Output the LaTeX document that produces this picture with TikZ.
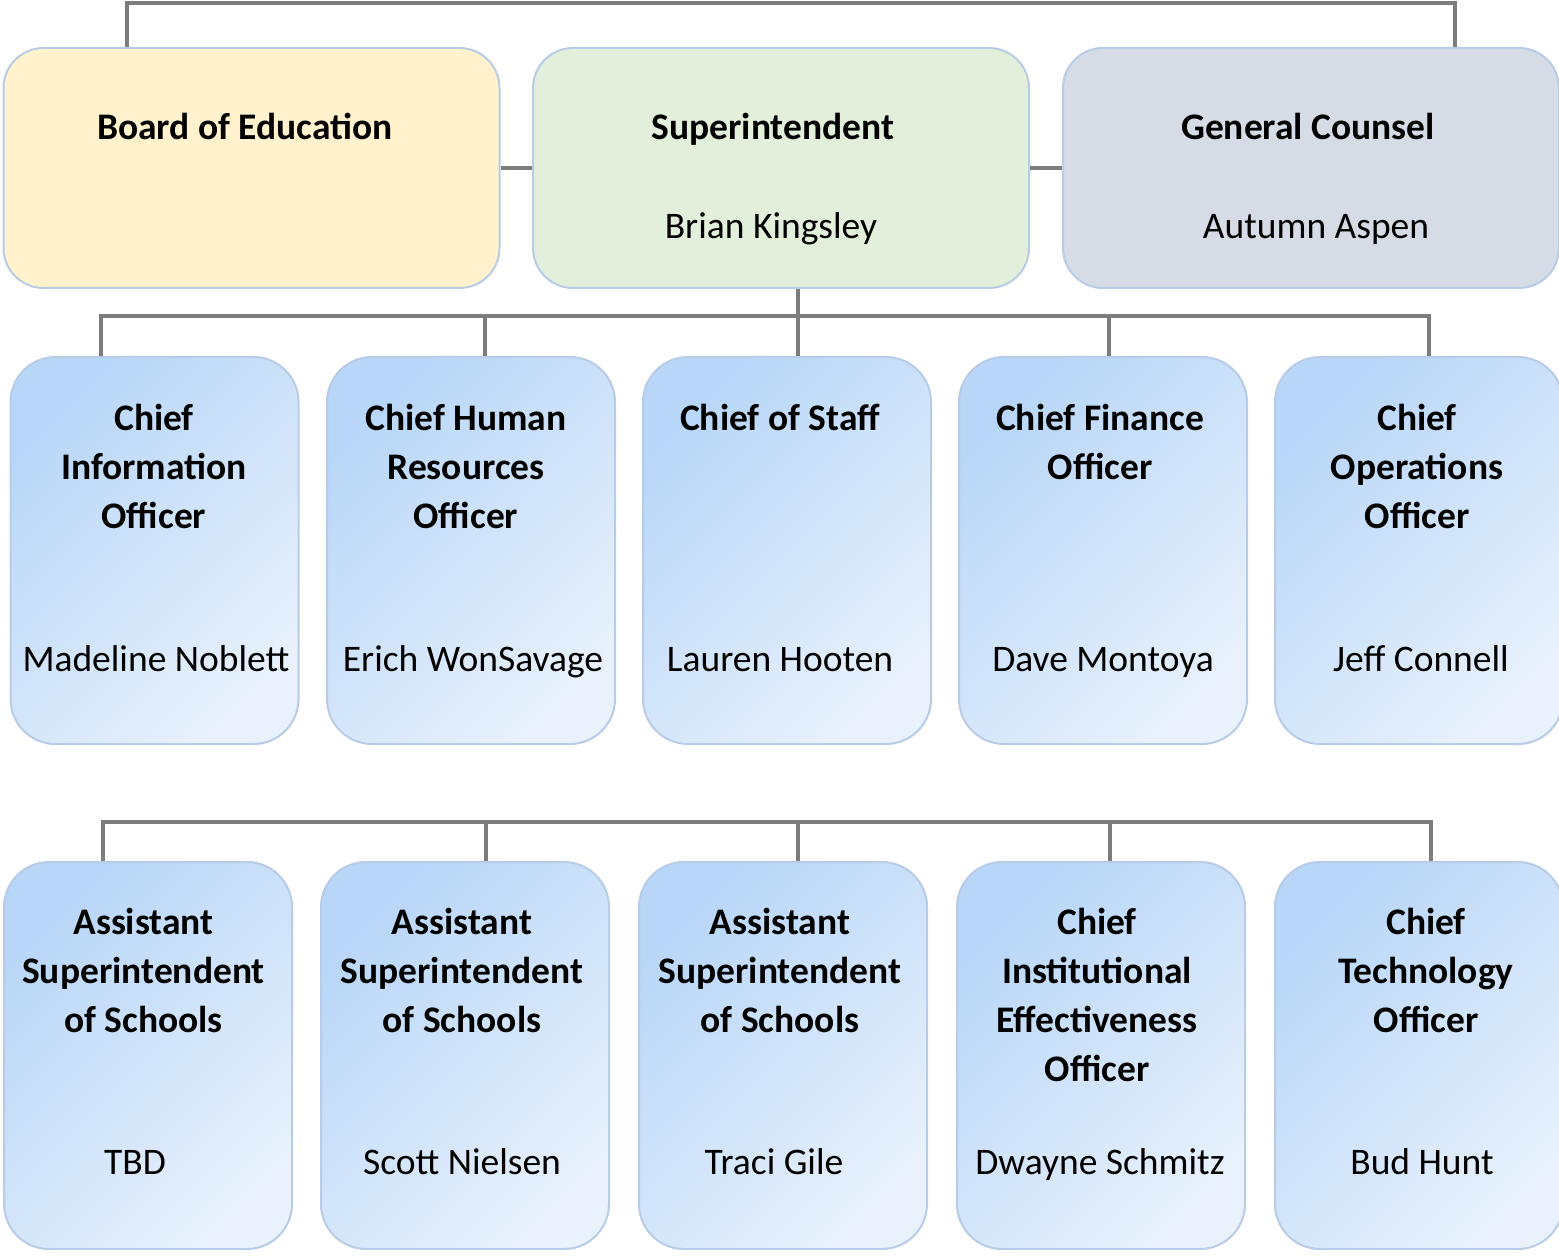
\documentclass[tikz,border=0pt]{standalone}
\usepackage{fontspec}
\setmainfont{Carlito}
\begin{document}
\begin{tikzpicture}[x=1pt,y=-1pt,
  conn/.style={draw=gray!98!black, line width=4pt, line join=miter},
  topbox/.style={draw=bordc, line width=2pt, rounded corners=40pt, minimum width=496pt, minimum height=240pt, inner sep=0pt},
  rowbox/.style={draw=bordc, line width=2pt, rounded corners=45pt, minimum width=288pt, minimum height=387pt, inner sep=0pt,
     top color=gradA, bottom color=gradB, shading angle=45},
  ttl/.style={font=\fontsize{37.5}{49}\selectfont\bfseries, align=center, anchor=base, inner sep=0pt},
  nm/.style={font=\fontsize{37.5}{49}\selectfont, anchor=base, inner sep=0pt}
]
\definecolor{bordc}{HTML}{B8CCE8}
\definecolor{gradA}{HTML}{B8D6F8}
\definecolor{gradB}{HTML}{E8F1FC}
\definecolor{boardc}{HTML}{FFF2CC}
\definecolor{supc}{HTML}{E2EFDA}
\definecolor{gcc}{HTML}{D6DCE5}
\useasboundingbox (0,0) rectangle (1559,1257);

% top row
\node[topbox, fill=boardc] (board) at (251.5,168) {};
\node[topbox, fill=supc] (sup) at (781,168) {};
\node[topbox, fill=gcc] (gc) at (1311,168) {};
\node[ttl] (boardt) at (245,140) {Board of Education};
\node[ttl] (supt) at (773,140) {Superintendent};
\node[nm] (supn) at (771,239) {Brian Kingsley};
\node[ttl] (gct) at (1308,140) {General Counsel};
\node[nm] (gcn) at (1316,239) {Autumn Aspen};

% row 2 (base anchor = baseline of last line)
\node[rowbox] (b1) at (154.5,550.5) {};
\node[rowbox] (b2) at (471,550.5) {};
\node[rowbox] (b3) at (787,550.5) {};
\node[rowbox] (b4) at (1103,550.5) {};
\node[rowbox] (b5) at (1419,550.5) {};
\node[ttl] (t1) at (154,528) {Chief\\Information\\Officer};
\node[ttl] (t2) at (466,528) {Chief Human\\Resources\\Officer};
\node[ttl] (t3) at (780,430) {Chief of Staff};
\node[ttl] (t4) at (1100,479) {Chief Finance\\Officer};
\node[ttl] (t5) at (1417,528) {Chief\\Operations\\Officer};
\node[nm] (n1) at (156,671) {Madeline Noblett};
\node[nm] (n2) at (473,671) {Erich WonSavage};
\node[nm] (n3) at (780,671) {Lauren Hooten};
\node[nm] (n4) at (1103,671) {Dave Montoya};
\node[nm] (n5) at (1421,671) {Jeff Connell};

% row 3
\node[rowbox] (c1) at (148,1055.5) {};
\node[rowbox] (c2) at (465,1055.5) {};
\node[rowbox] (c3) at (783,1055.5) {};
\node[rowbox] (c4) at (1101,1055.5) {};
\node[rowbox] (c5) at (1419,1055.5) {};
\node[ttl] (u1) at (143.5,1032) {Assistant\\Superintendent\\of Schools};
\node[ttl] (u2) at (462,1032) {Assistant\\Superintendent\\of Schools};
\node[ttl] (u3) at (780,1032) {Assistant\\Superintendent\\of Schools};
\node[ttl] (u4) at (1097,1081) {Chief\\Institutional\\Effectiveness\\Officer};
\node[ttl] (u5) at (1426,1032) {Chief\\Technology\\Officer};
\node[nm] (m1) at (135,1174) {TBD};
\node[nm] (m2) at (462,1174) {Scott Nielsen};
\node[nm] (m3) at (774,1174) {Traci Gile};
\node[nm] (m4) at (1100,1174) {Dwayne Schmitz};
\node[nm] (m5) at (1422,1174) {Bud Hunt};

% top connectors
\coordinate (tl) at (127,3);
\coordinate (tr) at (1455,3);
\draw[conn] (board.north -| tl) -- (tl) -- (tr) -- (gc.north -| tr);
\draw[conn] (board.east) -- (sup.west);
\draw[conn] (sup.east) -- (gc.west);

% row 2 connectors
\coordinate (p1) at (101,316);
\coordinate (p2) at (485,316);
\coordinate (p3) at (798,316);
\coordinate (p4) at (1109,316);
\coordinate (p5) at (1429,316);
\draw[conn] (sup.south -| p3) -- (p3);
\draw[conn] (p1 |- b1.north) -- (p1) -- (p5) -- (p5 |- b5.north);
\draw[conn] (p2) -- (p2 |- b2.north);
\draw[conn] (p3) -- (p3 |- b3.north);
\draw[conn] (p4) -- (p4 |- b4.north);

% row 3 connectors
\coordinate (q1) at (103,822);
\coordinate (q2) at (486,822);
\coordinate (q3) at (798,822);
\coordinate (q4) at (1110,822);
\coordinate (q5) at (1431,822);
\draw[conn] (q1 |- c1.north) -- (q1) -- (q5) -- (q5 |- c5.north);
\draw[conn] (q2) -- (q2 |- c2.north);
\draw[conn] (q3) -- (q3 |- c3.north);
\draw[conn] (q4) -- (q4 |- c4.north);
\end{tikzpicture}
\end{document}
